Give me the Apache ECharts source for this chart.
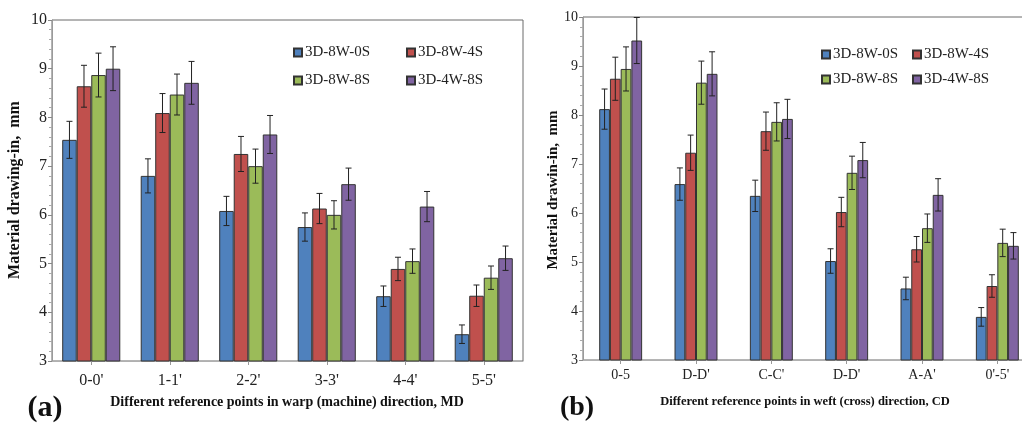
<!DOCTYPE html>
<html>
<head>
<meta charset="utf-8">
<script src="https://cdn.jsdelivr.net/npm/echarts@6/dist/echarts.min.js"></script>
<style>
html,body{margin:0;padding:0;background:#fff;}
#main{width:1022px;height:423px;}
</style>
</head>
<body>
<div id="main"></div>
<script>
// ---- Data ----
const seriesNames = ['3D-8W-0S', '3D-8W-4S', '3D-8W-8S', '3D-4W-8S'];

// (a) warp (machine) direction
const catsA = ["0-0'", "1-1'", "2-2'", "3-3'", "4-4'", "5-5'"];
const a0S = [7.54, 6.80, 6.08, 5.75, 4.33, 3.55];
const a4S = [8.64, 8.09, 7.25, 6.13, 4.89, 4.34];
const a8S = [8.87, 8.47, 7.00, 6.00, 5.05, 4.71];
const a4W = [9.00, 8.71, 7.65, 6.63, 6.17, 5.11];
const a0SErr = [0.38, 0.35, 0.30, 0.29, 0.21, 0.19];
const a4SErr = [0.43, 0.40, 0.36, 0.31, 0.24, 0.22];
const a8SErr = [0.45, 0.42, 0.35, 0.29, 0.25, 0.24];
const a4WErr = [0.45, 0.44, 0.39, 0.33, 0.31, 0.25];

// (b) weft (cross) direction
const catsB = ["0-5", "D-D'", "C-C'", "D-D'", "A-A'", "0'-5'"];
const b0S = [8.12, 6.59, 6.35, 5.02, 4.46, 3.88];
const b4S = [8.74, 7.23, 7.67, 6.02, 5.26, 4.51];
const b8S = [8.94, 8.66, 7.86, 6.82, 5.69, 5.39];
const b4W = [9.52, 8.84, 7.92, 7.08, 6.37, 5.33];
const b0SErr = [0.41, 0.33, 0.32, 0.25, 0.23, 0.19];
const b4SErr = [0.44, 0.36, 0.39, 0.30, 0.26, 0.23];
const b8SErr = [0.45, 0.44, 0.39, 0.34, 0.29, 0.28];
const b4WErr = [0.47, 0.45, 0.40, 0.36, 0.33, 0.27];

const yTicks = [3, 4, 5, 6, 7, 8, 9, 10];

// ---- Styling ----
const colors = ['#4F81BD', '#C0504D', '#9BBB59', '#8064A2'];
const SERIF = '"Liberation Serif", "DejaVu Serif", serif';
const gapA = 0.26, gapB = 0.43;

const valsA = [a0S, a4S, a8S, a4W], errsA = [a0SErr, a4SErr, a8SErr, a4WErr];
const valsB = [b0S, b4S, b8S, b4W], errsB = [b0SErr, b4SErr, b8SErr, b4WErr];

function yAxis(gi, fs) {
  return {
    type: 'value', gridIndex: gi, min: yTicks[0], max: yTicks[yTicks.length - 1], interval: 1,
    axisLine: {show: true, lineStyle: {color: '#9a9a9a', width: 1}},
    axisTick: {show: true, inside: false, length: 4, lineStyle: {color: '#888'}},
    minorTick: {show: true, splitNumber: 5, length: 3, lineStyle: {color: '#aaa'}},
    splitLine: {show: false},
    axisLabel: {fontFamily: SERIF, fontSize: fs, color: '#222', margin: 5}
  };
}
function xAxis(gi, cats, fs, margin) {
  return {
    type: 'category', gridIndex: gi, data: cats,
    axisLine: {show: true, lineStyle: {color: '#b0b0b0', width: 1}},
    axisTick: {show: true, alignWithLabel: true, length: 4, lineStyle: {color: '#999'}},
    axisLabel: {fontFamily: SERIF, fontSize: fs, color: '#222', margin: margin, interval: 0}
  };
}

const series = [];
function addChart(gi, vals, errs, gap) {
  vals.forEach((v, si) => {
    series.push({
      name: seriesNames[si], type: 'bar', xAxisIndex: gi, yAxisIndex: gi,
      data: v, barGap: '0%', barCategoryGap: (gap * 100) + '%',
      itemStyle: {color: colors[si], borderColor: '#333', borderWidth: 1},
      emphasis: {disabled: true}, animation: false
    });
  });
  vals.forEach((v, si) => {
    const data = v.map((val, i) => [i, val, errs[si][i]]);
    series.push({
      type: 'custom', xAxisIndex: gi, yAxisIndex: gi, data: data, clip: false, z: 5,
      encode: {x: 0, y: 1}, animation: false, silent: true,
      renderItem: function (params, api) {
        const idx = api.value(0), val = api.value(1), e = api.value(2);
        const center = api.coord([idx, val]);
        const band = api.size([1, 0])[0];
        const groupW = band * (1 - gap);
        const barW = groupW / 4;
        const x = center[0] - groupW / 2 + barW * (si + 0.5);
        const top = api.coord([idx, val + e])[1];
        const bot = api.coord([idx, val - e])[1];
        const cap = 3;
        const st = {stroke: '#222', lineWidth: 1, fill: null};
        return {type: 'group', children: [
          {type: 'line', shape: {x1: x, y1: top, x2: x, y2: bot}, style: st},
          {type: 'line', shape: {x1: x - cap, y1: top, x2: x + cap, y2: top}, style: st},
          {type: 'line', shape: {x1: x - cap, y1: bot, x2: x + cap, y2: bot}, style: st}
        ]};
      }
    });
  });
}
addChart(0, valsA, errsA, gapA);
addChart(1, valsB, errsB, gapB);

function legend(name, left, top) {
  return {
    data: [name], left: left, top: top, padding: 0, itemWidth: 8, itemHeight: 8, icon: 'rect',
    selectedMode: false,
    textStyle: {fontFamily: SERIF, fontSize: 15, color: '#222', padding: [0, 0, 0, -2]}
  };
}

const option = {
  animation: false,
  backgroundColor: '#fff',
  grid: [
    {left: 52, top: 20, width: 471, height: 341, outerBoundsMode: 'none', containLabel: false, show: true, borderColor: '#6a6a6a', borderWidth: 1, backgroundColor: 'transparent'},
    {left: 583, top: 17, width: 452, height: 343, outerBoundsMode: 'none', containLabel: false, show: true, borderColor: '#6a6a6a', borderWidth: 1, backgroundColor: 'transparent'}
  ],
  xAxis: [xAxis(0, catsA, 16, 12), xAxis(1, catsB, 14, 8)],
  yAxis: [yAxis(0, 16), yAxis(1, 14)],
  legend: [
    legend(seriesNames[0], 293, 45), legend(seriesNames[1], 406, 45),
    legend(seriesNames[2], 293, 73), legend(seriesNames[3], 406, 73),
    legend(seriesNames[0], 821, 47), legend(seriesNames[1], 912, 47),
    legend(seriesNames[2], 821, 72), legend(seriesNames[3], 912, 72)
  ],
  series: series,
  graphic: [
    {type: 'text', x: 15, y: 190, rotation: Math.PI / 2,
     style: {text: 'Material drawing-in,  mm', fontFamily: SERIF, fontWeight: 'bold', fontSize: 16, fill: '#111', textAlign: 'center', textVerticalAlign: 'middle'}},
    {type: 'text', x: 553, y: 190, rotation: Math.PI / 2,
     style: {text: 'Material drawin-in,  mm', fontFamily: SERIF, fontWeight: 'bold', fontSize: 15, fill: '#111', textAlign: 'center', textVerticalAlign: 'middle'}},
    {type: 'text', x: 287, y: 402,
     style: {text: 'Different reference points in warp (machine) direction, MD', fontFamily: SERIF, fontWeight: 'bold', fontSize: 14, fill: '#111', textAlign: 'center', textVerticalAlign: 'middle'}},
    {type: 'text', x: 805, y: 402,
     style: {text: 'Different reference points in weft (cross) direction, CD', fontFamily: SERIF, fontWeight: 'bold', fontSize: 12.5, fill: '#111', textAlign: 'center', textVerticalAlign: 'middle'}},
    {type: 'text', x: 45, y: 408,
     style: {text: '(a)', fontFamily: SERIF, fontWeight: 'bold', fontSize: 30, fill: '#111', textAlign: 'center', textVerticalAlign: 'middle'}},
    {type: 'text', x: 577, y: 408,
     style: {text: '(b)', fontFamily: SERIF, fontWeight: 'bold', fontSize: 28, fill: '#111', textAlign: 'center', textVerticalAlign: 'middle'}}
  ]
};

const chart = echarts.init(document.getElementById('main'), null, {renderer: 'canvas'});
chart.setOption(option);
</script>
</body>
</html>
